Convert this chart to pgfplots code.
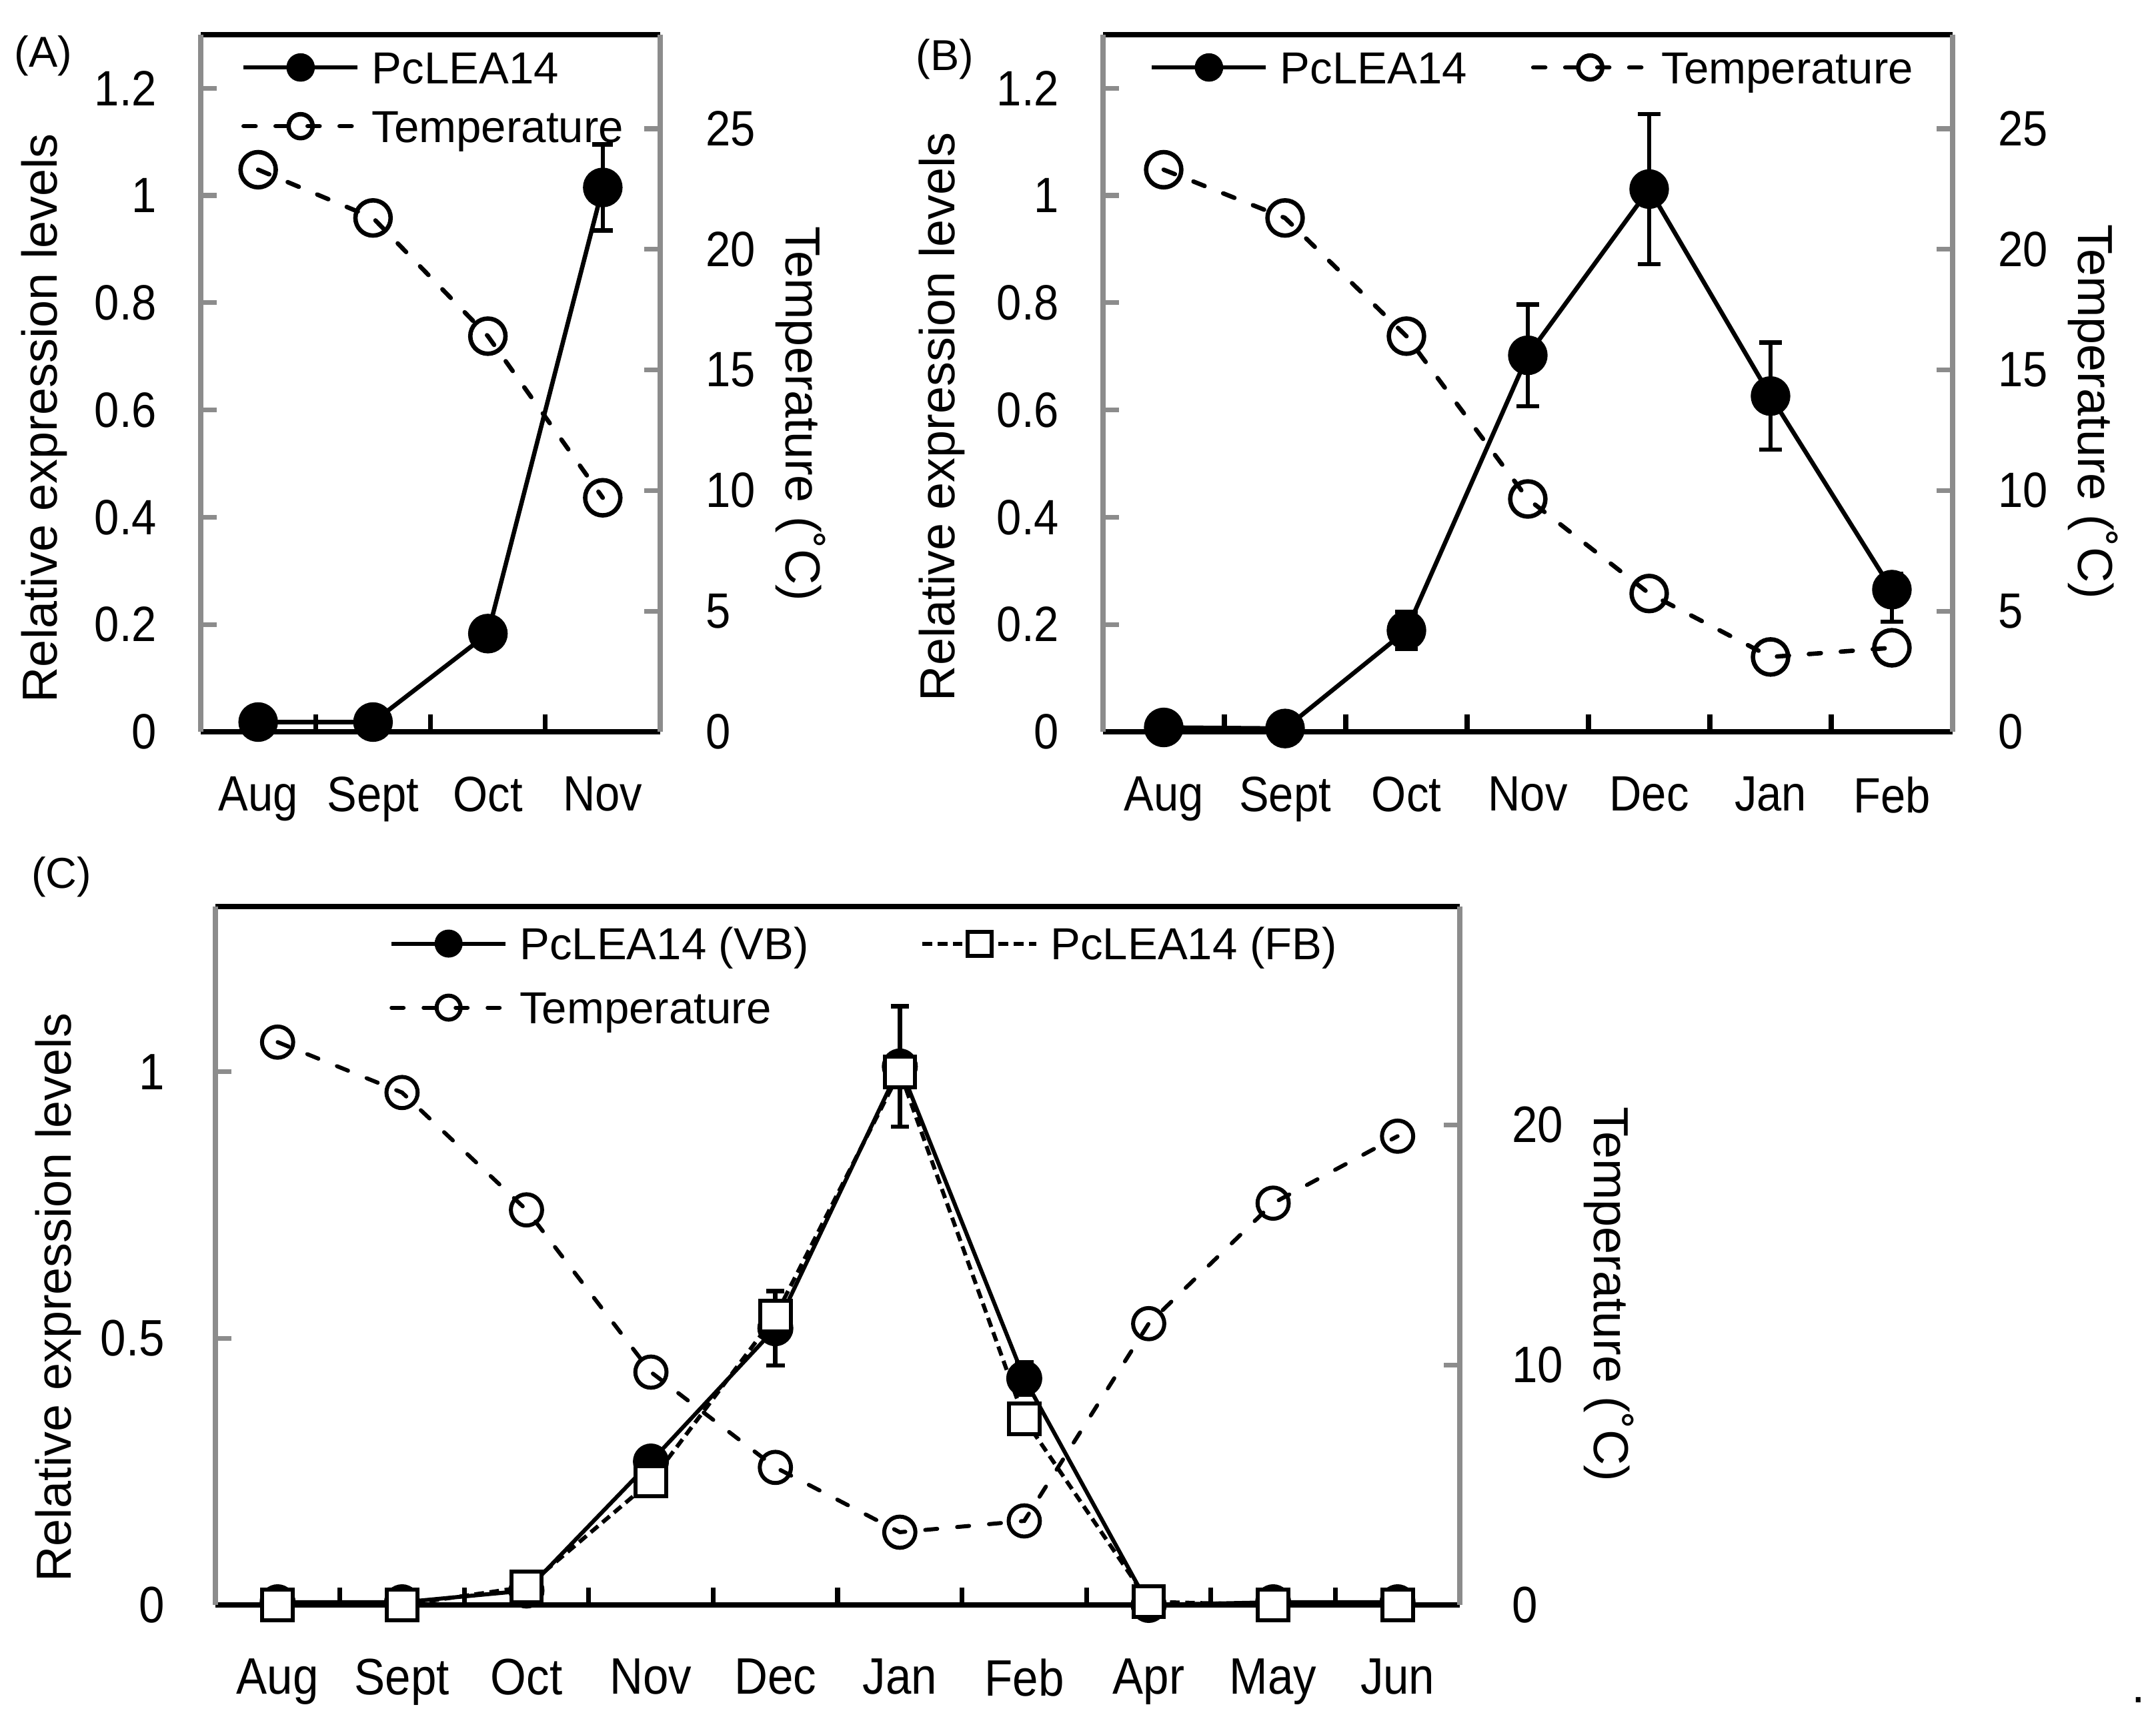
\documentclass[border=0pt]{standalone}
\usepackage{fontspec}
\setmainfont{Liberation Sans}
\newfontfamily\narrowsans{Liberation Sans}[FakeStretch=0.9]
\usepackage{pgfplots}
\pgfplotsset{compat=1.18}
\definecolor{axisgray}{RGB}{140,140,140}
\newcommand{\tickAB}{\narrowsans\fontsize{12.4pt}{14pt}\selectfont}
\newcommand{\tickC}{\narrowsans\fontsize{12.8pt}{15pt}\selectfont}
\newcommand{\labf}{\fontsize{12.3pt}{14pt}\selectfont}
\newcommand{\legf}{\fontsize{11.2pt}{13pt}\selectfont}
\newcommand{\panf}{\fontsize{10.8pt}{12pt}\selectfont}

\pgfplotsset{
  tempaxis/.style={
    scale only axis, anchor=south west,
    axis x line=none, axis y line*=right,
    y axis line style={axisgray, line width=1.2pt, -},
    ytick style={axisgray, line width=1.2pt},
    major tick length=4pt, tick align=inside,
    clip=false,
    ylabel={Temperature (˚C)},
    ylabel style={font=\labf, anchor=center, rotate=180, inner sep=0pt},
  },
  expraxis/.style={
    scale only axis, anchor=south west,
    separate axis lines,
    x axis line style={black, line width=1.2pt},
    y axis line style={axisgray, line width=1.2pt},
    xtick pos=left, ytick pos=left,
    tick align=inside,
    major x tick style={draw=none},
    minor x tick style={black, line width=1.2pt},
    minor tick length=4.3pt,
    ytick style={axisgray, line width=1.2pt},
    major tick length=4pt,
    clip=false,
    ylabel={Relative expression levels},
    ylabel style={font=\labf, anchor=center, inner sep=0pt},
    legend style={draw=none, fill=none, inner sep=0pt, outer sep=0pt, anchor=north west, font=\legf,
      nodes={inner sep=0pt, text height=8.2pt, text depth=0.2pt}, column sep=3pt, cells={anchor=west}},
    legend image code/.code={\draw[mark repeat=2,mark phase=2,##1] plot coordinates {(0pt,0pt) (14.25pt,0pt) (28.5pt,0pt)};},
    legend image post style={mark size=3pt},
  },
  lea/.style={black, line width=1.1pt, mark=*, mark size=4.4pt, mark options={solid, fill=black}},
  temp/.style={black, line width=1.1pt, line cap=round, dash pattern=on 3pt off 5pt, mark=o, mark size=4.4pt, mark options={solid, fill=white}},
  leaVB/.style={black, line width=1pt, mark=*, mark size=4pt, mark options={solid, fill=black}},
  leaFB/.style={black, line width=1pt, dash pattern=on 2.4pt off 1.4pt, mark=square*, mark size=3.8pt, mark options={solid, fill=white}},
  tempC/.style={black, line width=1pt, line cap=round, dash pattern=on 3pt off 5pt, mark=o, mark size=3.9pt, mark options={solid, fill=white}},
}

\begin{document}
\begin{tikzpicture}
\path[use as bounding box] (0,0) rectangle (538.833pt,428pt);

% ---------------- Panel A ----------------
\begin{axis}[tempaxis, at={(50.17pt,245.17pt)}, width=114.83pt, height=174.17pt,
  xmin=-0.5, xmax=3.5, ymin=0, ymax=28.9,
  ytick={0,5,10,15,20,25}, yticklabels={0,5,10,15,20,25},
  yticklabel style={font=\tickAB, inner sep=0pt, anchor=west, xshift=11.2pt},
  ylabel style={at={(axis description cs:1.305,0.456)}}]
\addplot[temp] coordinates {(0,23.3) (1,21.3) (2,16.4) (3,9.7)};
\end{axis}
\begin{axis}[expraxis, at={(50.17pt,245.17pt)}, width=114.83pt, height=174.17pt,
  xmin=-0.5, xmax=3.5, ymin=0, ymax=1.3,
  xtick={0,1,2,3}, xticklabels={Aug,Sept,Oct,Nov},
  minor xtick={-0.5,0.5,1.5,2.5,3.5},
  ytick={0,0.2,0.4,0.6,0.8,1,1.2}, yticklabels={0,0.2,0.4,0.6,0.8,1,1.2},
  xticklabel style={font=\tickAB, inner sep=0pt, anchor=north, yshift=-11pt},
  yticklabel style={font=\tickAB, inner sep=0pt, anchor=east, xshift=-10.8pt},
  ylabel style={at={(axis description cs:-0.340,0.45)}},
  legend style={at={(0.0885,0.977)}, row sep=6.27pt}]
\addplot[lea, error bars/.cd, y dir=both, y explicit,
  error bar style={line width=1.1pt, solid},
  error mark options={rotate=90, black, solid, line width=1.1pt, mark size=2.6pt}]
  coordinates {(0,0.018) +- (0,0) (1,0.018) +- (0,0) (2,0.183) +- (0,0) (3,1.015) +- (0,0.08)};
\addlegendentry{PcLEA14}
\addlegendimage{temp}
\addlegendentry{Temperature}
\end{axis}

% ---------------- Panel B ----------------
\begin{axis}[tempaxis, at={(275.67pt,245.17pt)}, width=212.33pt, height=174.17pt,
  xmin=-0.5, xmax=6.5, ymin=0, ymax=28.9,
  ytick={0,5,10,15,20,25}, yticklabels={0,5,10,15,20,25},
  yticklabel style={font=\tickAB, inner sep=0pt, anchor=west, xshift=11.2pt},
  ylabel style={at={(axis description cs:1.165,0.459)}}]
\addplot[temp] coordinates {(0,23.3) (1,21.3) (2,16.4) (3,9.65) (4,5.73) (5,3.1) (6,3.48)};
\end{axis}
\begin{axis}[expraxis, at={(275.67pt,245.17pt)}, width=212.33pt, height=174.17pt,
  xmin=-0.5, xmax=6.5, ymin=0, ymax=1.3,
  xtick={0,1,2,3,4,5,6}, xticklabels={Aug,Sept,Oct,Nov,Dec,Jan,Feb},
  minor xtick={-0.5,0.5,1.5,2.5,3.5,4.5,5.5,6.5},
  ytick={0,0.2,0.4,0.6,0.8,1,1.2}, yticklabels={0,0.2,0.4,0.6,0.8,1,1.2},
  xticklabel style={font=\tickAB, inner sep=0pt, anchor=north, yshift=-11pt},
  yticklabel style={font=\tickAB, inner sep=0pt, anchor=east, xshift=-10.8pt},
  ylabel style={at={(axis description cs:-0.190,0.452)}},
  legend columns=2,
  legend style={at={(0.055,0.977)}, /tikz/every even column/.append style={column sep=16pt}}]
\addplot[lea, error bars/.cd, y dir=both, y explicit,
  error bar style={line width=1.1pt, solid},
  error mark options={rotate=90, black, solid, line width=1.1pt, mark size=2.8pt}]
  coordinates {(0,0.008) +- (0,0) (1,0.006) +- (0,0) (2,0.189) +- (0,0.035) (3,0.702) +- (0,0.095)
               (4,1.012) +- (0,0.14) (5,0.626) +- (0,0.10) (6,0.265) += (0,0.03) -= (0,0.06)};
\addlegendentry{PcLEA14}
\addlegendimage{temp}
\addlegendentry{Temperature}
\end{axis}

% ---------------- Panel C ----------------
\begin{axis}[tempaxis, at={(53.83pt,27pt)}, width=311pt, height=174.5pt,
  xmin=-0.5, xmax=9.5, ymin=0, ymax=29.1,
  ytick={0,10,20}, yticklabels={0,10,20},
  yticklabel style={font=\tickC, inner sep=0pt, anchor=west, xshift=12.8pt},
  ylabel style={at={(axis description cs:1.120,0.445)}}]
\addplot[tempC] coordinates {(0,23.45) (1,21.35) (2,16.46) (3,9.70) (4,5.73) (5,3.03) (6,3.50) (7,11.72) (8,16.74) (9,19.53)};
\end{axis}
\begin{axis}[expraxis, at={(53.83pt,27pt)}, width=311pt, height=174.5pt,
  xmin=-0.5, xmax=9.5, ymin=0, ymax=1.31,
  xtick={0,1,2,3,4,5,6,7,8,9}, xticklabels={Aug,Sept,Oct,Nov,Dec,Jan,Feb,Apr,May,Jun},
  minor xtick={-0.5,0.5,1.5,2.5,3.5,4.5,5.5,6.5,7.5,8.5,9.5},
  ytick={0,0.5,1}, yticklabels={0,0.5,1},
  xticklabel style={font=\tickC, inner sep=0pt, anchor=north, yshift=-13.2pt},
  yticklabel style={font=\tickC, inner sep=0pt, anchor=east, xshift=-12.5pt},
  ylabel style={at={(axis description cs:-0.126,0.44)}},
  legend columns=2,
  legend style={at={(0.140,0.971)}, row sep=7.6pt, /tikz/every even column/.append style={column sep=28pt}}]
\addplot[leaVB, error bars/.cd, y dir=both, y explicit,
  error bar style={line width=1.1pt, solid},
  error mark options={rotate=90, black, solid, line width=1.1pt, mark size=2.3pt}]
  coordinates {(0,0.005) +- (0,0) (1,0.005) +- (0,0) (2,0.027) +- (0,0) (3,0.269) +- (0,0)
               (4,0.519) +- (0,0.07) (5,1.01) +- (0,0.113) (6,0.425) +- (0,0.03)
               (7,0) +- (0,0) (8,0.005) +- (0,0) (9,0.005) +- (0,0)};
\addlegendentry{PcLEA14 (VB)}
\addplot[leaFB] coordinates {(0,0) (1,0) (2,0.034) (3,0.232) (4,0.542) (5,1.0) (6,0.349) (7,0.006) (8,0) (9,0)};
\addlegendentry{PcLEA14 (FB)}
\addlegendimage{tempC}
\addlegendentry{Temperature}
\end{axis}

% panel letters
\node[font=\panf, inner sep=0pt] at (10.83pt,414pt) {(A)};
\node[font=\panf, inner sep=0pt] at (236.17pt,413.17pt) {(B)};
\node[font=\panf, inner sep=0pt] at (15.33pt,208.83pt) {(C)};
\node[font=\labf, inner sep=0pt] at (534.5pt,3.2pt) {.};
\end{tikzpicture}
\end{document}
